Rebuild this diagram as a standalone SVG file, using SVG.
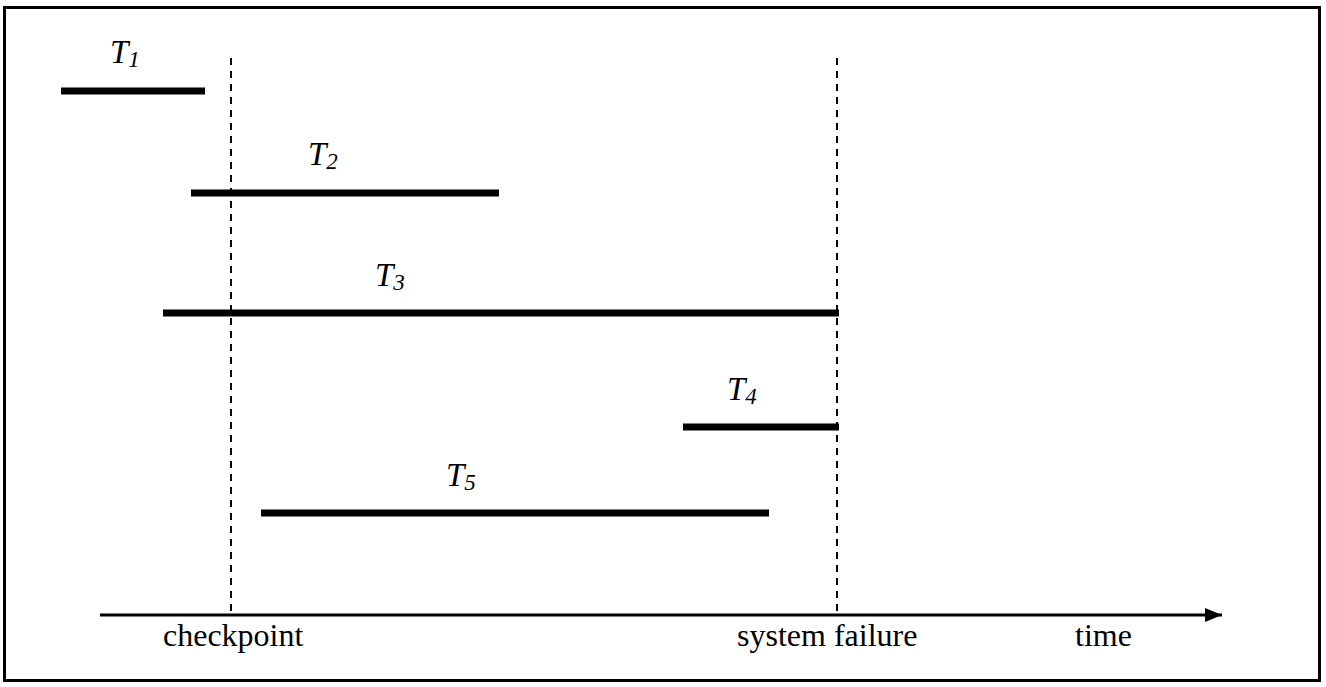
<svg xmlns="http://www.w3.org/2000/svg" width="1326" height="687" viewBox="0 0 1326 687">
<style>
.frame{fill:none;stroke:#000;stroke-width:3}
.bar{stroke:#000;stroke-width:7}
.dash{stroke:#000;stroke-width:2;stroke-dasharray:7,6}
.axis{stroke:#000;stroke-width:3}
.lbl{font-family:'Liberation Serif','DejaVu Serif',serif;font-size:32px;fill:#000}
.tl{font-family:'Liberation Serif','DejaVu Serif',serif;font-size:33px;font-style:italic;fill:#000}
.sub{font-size:23px}
</style>
<defs>
<marker id="arr" markerWidth="18" markerHeight="14" refX="17" refY="7" orient="auto" markerUnits="userSpaceOnUse">
<path d="M0,0 L17,7 L0,14 Z" fill="#000"/>
</marker>
</defs>
<rect class="frame" x="4.5" y="7.5" width="1315" height="673"/>
<g id="connectors">
<line id="checkpoint-line" class="dash" x1="231" y1="58" x2="231" y2="614"/>
<line id="failure-line" class="dash" x1="837" y1="58" x2="837" y2="614"/>
<line id="time-axis" class="axis" x1="100" y1="615" x2="1222" y2="615" marker-end="url(#arr)"/>
</g>
<g id="T1"><line class="bar" x1="61" y1="91" x2="205" y2="91"/><text class="tl" x="110" y="63">T<tspan class="sub" dy="4">1</tspan></text></g>
<g id="T2"><line class="bar" x1="191" y1="193" x2="499" y2="193"/><text class="tl" x="308" y="165">T<tspan class="sub" dy="4">2</tspan></text></g>
<g id="T3"><line class="bar" x1="163" y1="313" x2="839" y2="313"/><text class="tl" x="375" y="286">T<tspan class="sub" dy="4">3</tspan></text></g>
<g id="T4"><line class="bar" x1="683" y1="427" x2="839" y2="427"/><text class="tl" x="727" y="400">T<tspan class="sub" dy="4">4</tspan></text></g>
<g id="T5"><line class="bar" x1="261" y1="513" x2="769" y2="513"/><text class="tl" x="446" y="486">T<tspan class="sub" dy="4">5</tspan></text></g>
<g id="labels">
<text class="lbl" x="163" y="646">checkpoint</text>
<text class="lbl" x="737" y="646">system failure</text>
<text class="lbl" x="1075" y="646">time</text>
</g>
</svg>
